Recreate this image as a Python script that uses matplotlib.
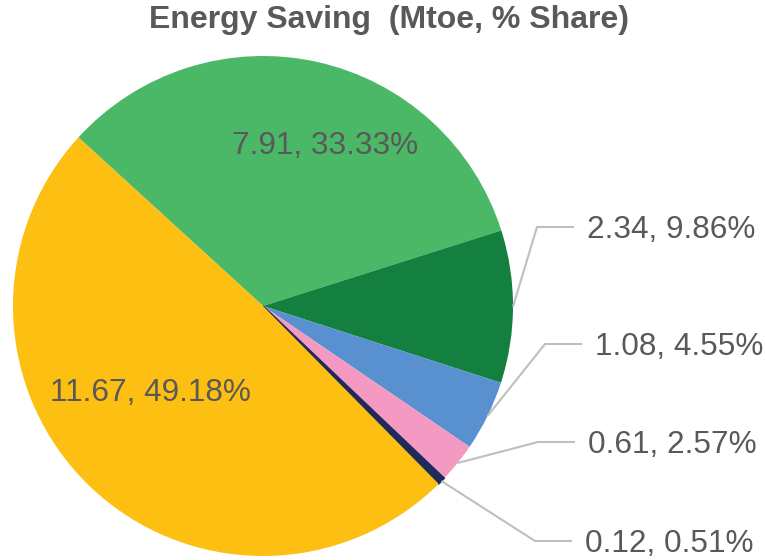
import numpy as np
import matplotlib
matplotlib.use("Agg")
import matplotlib.pyplot as plt

plt.rcParams['font.family'] = ['Liberation Sans', 'DejaVu Sans']

# data (Mtoe and % share), clockwise from the upper-left
values = [7.91, 2.34, 1.08, 0.61, 0.12, 11.67]
shares = [33.33, 9.86, 4.55, 2.57, 0.51, 49.18]
colors = ['#4ab866', '#13803f', '#5890d0', '#f49ac2', '#1f2a5c', '#fdbf12']
labels = ['%.2f, %.2f%%' % (v, s) for v, s in zip(values, shares)]

W, H = 765, 560
text_col = '#595959'
line_col = '#bfbfbf'

fig = plt.figure(figsize=(W / 100, H / 100), dpi=100)
ax = fig.add_axes([0, 0, 1, 1])

cx, cy, r = 263, H - 306, 250
wedges, _ = ax.pie(values, colors=colors, startangle=137.6, counterclock=False,
                   center=(cx, cy), radius=r, wedgeprops=dict(linewidth=0))
# the tiny navy slice gets a hairline of its own colour so it reads like the original
wedges[4].set_edgecolor(colors[4])
wedges[4].set_linewidth(1.2)
ax.set_xlim(0, W)
ax.set_ylim(0, H)
ax.set_aspect('equal')
ax.axis('off')

fs = 22.7

# inside labels (green and yellow)
inside = {0: (325, H - 154), 5: (150, H - 401)}
for i, (x, y) in inside.items():
    ax.text(x, y, labels[i], ha='center', va='baseline', fontsize=fs, color=text_col)

# outside labels with leader lines; (text x, baseline y) in pixels
outside = {1: (587, H - 238), 2: (595, H - 355), 3: (588, H - 453), 4: (585, H - 552)}
for i, (tx, ty) in outside.items():
    w = wedges[i]
    mid = np.deg2rad((w.theta1 + w.theta2) / 2)
    ex, ey = cx + r * np.cos(mid), cy + r * np.sin(mid)
    ly = ty + 11
    ax.plot([ex, tx - 50, tx - 13], [ey, ly, ly], color=line_col, lw=1.5,
            solid_capstyle='butt')
    ax.text(tx, ty, labels[i], ha='left', va='baseline', fontsize=fs, color=text_col)

ax.text(389, H - 28, 'Energy Saving  (Mtoe, % Share)', ha='center', va='baseline',
        fontsize=23, fontweight='bold', color=text_col)

fig.savefig('out.png', dpi=100)
